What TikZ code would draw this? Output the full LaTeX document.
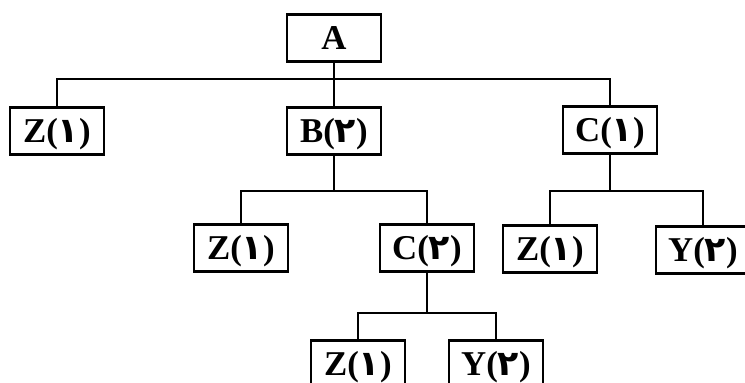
\documentclass[tikz,border=0pt]{standalone}
\usepackage{fontspec}
\setmainfont{Liberation Serif}
\newfontfamily\arabicfont[Script=Arabic]{DejaVu Sans}
\TeXXeTstate=1
\newcommand{\fadig}[1]{{\arabicfont\beginR #1\endR}}

\begin{document}
\begin{tikzpicture}[x=0.5pt,y=-0.5pt,line width=1.1pt]
    \tikzstyle{item}=[rectangle,draw,minimum width=47pt,minimum height=23.5pt,inner sep=0pt,text height=11.5pt,text depth=0pt,font=\fontsize{17.4}{20}\selectfont\bfseries]
    \clip (0,0) rectangle (745,382);

    % Draw the root and the first level
    \node[item] (A) at (334,38) {A};
    \node[item] (Z-1) at (57,131) {Z(\fadig{١})};
    \node[item] (B) at (334,131) {B(\fadig{٢})};
    \node[item] (C-1) at (610,130) {C(\fadig{١})};

    % Draw the children of B and C
    \node[item] (BZ) at (241,248) {Z(\fadig{١})};
    \node[item] (BC) at (427,248) {C(\fadig{٢})};
    \node[item] (CZ) at (550,249) {Z(\fadig{١})};
    \node[item] (CY) at (703,250) {Y(\fadig{٢})};

    % Draw the children of C(2)
    \node[item] (BCZ) at (358,364) {Z(\fadig{١})};
    \node[item] (BCY) at (496,364) {Y(\fadig{٢})};

    % Bus lines between the levels
    \coordinate (bus-A) at (334,79);
    \coordinate (bus-B) at (334,191);
    \coordinate (bus-C) at (610,191);
    \coordinate (bus-BC) at (427,313);

    \draw (A) -- (B);
    \draw (Z-1.north) |- (bus-A) -| (C-1.north);
    \draw (B) -- (bus-B);
    \draw (BZ.north) |- (bus-B) -| (BC.north);
    \draw (C-1) -- (bus-C);
    \draw (CZ.north) |- (bus-C) -| (CY.north);
    \draw (BC) -- (bus-BC);
    \draw (BCZ.north) |- (bus-BC) -| (BCY.north);
\end{tikzpicture}
\end{document}
